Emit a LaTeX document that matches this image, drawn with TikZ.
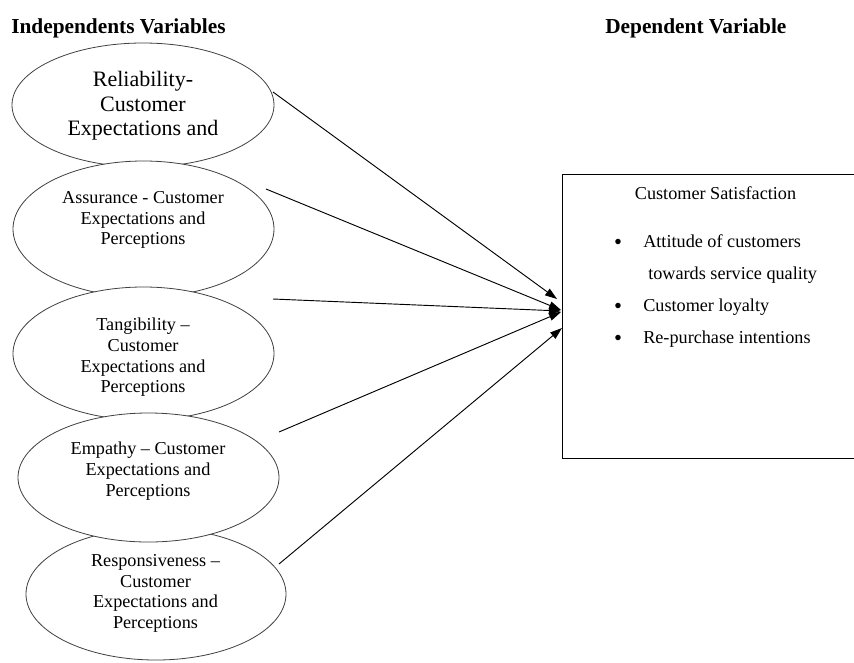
\documentclass[tikz,border=0pt]{standalone}
\usepackage{fontspec}
\setmainfont{Liberation Serif}
\usetikzlibrary{shapes.geometric,arrows.meta}
\begin{document}
\begin{tikzpicture}[x=0.75pt,y=-0.75pt,
  ell/.style={ellipse,draw=black!75,line width=0.6pt,fill=white,inner sep=0pt},
  etext/.style={align=center,inner sep=0pt,font=\rmfamily\fontsize{13.65pt}{15.5pt}\selectfont},
  bigtext/.style={align=center,inner sep=0pt,font=\rmfamily\fontsize{16.5pt}{18.4pt}\selectfont},
  head/.style={inner sep=0pt,font=\rmfamily\fontsize{16pt}{19pt}\selectfont\bfseries},
  btext/.style={inner sep=0pt,font=\rmfamily\fontsize{13.65pt}{15.5pt}\selectfont},
  bul/.style={inner sep=0pt,font=\rmfamily\fontsize{17pt}{19pt}\selectfont},
  link/.style={-{Triangle[length=9pt,width=6pt]},line width=0.7pt,black}]
\clip (0,0) rectangle (854,662);
\fill[white] (0,0) rectangle (854,662);
% headers
\node[head,anchor=base west] (hi) at (11,33) {Independents Variables};
\node[head,anchor=base west] (hd) at (605,33) {Dependent Variable};
% ellipses
\node[ell,minimum width=262*0.75pt,minimum height=124*0.75pt] (e1) at (143,105) {};
\node[bigtext] (t1) at (143,106) {Reliability-\\Customer\\Expectations and};
\node[ell,minimum width=261*0.75pt,minimum height=136*0.75pt] (e2) at (143.5,229) {};
\node[etext] (t2) at (143,220) {Assurance - Customer\\Expectations and\\Perceptions};
\node[ell,minimum width=261*0.75pt,minimum height=133*0.75pt] (e3) at (143.5,353.5) {};
\node[etext] (t3) at (143,357.5) {Tangibility --\\Customer\\Expectations and\\Perceptions};
\node[ell,minimum width=260*0.75pt,minimum height=132*0.75pt] (e5) at (156,594) {};
\node[etext] (t5) at (155.5,593.5) {Responsiveness --\\Customer\\Expectations and\\Perceptions};
\node[ell,minimum width=261*0.75pt,minimum height=129*0.75pt] (e4) at (148.5,477.5) {};
\node[etext] (t4) at (148,471) {Empathy -- Customer\\Expectations and\\Perceptions};
% dependent box
\node[draw,line width=1pt,rectangle,minimum width=340*0.75pt,minimum height=284*0.75pt,anchor=north west,inner sep=0pt] (cs) at (562,174) {};
\node[btext,anchor=base] (cst) at (715.5,199) {Customer Satisfaction};
\node[bul,anchor=base] (b1) at (618,249) {•};
\node[btext,anchor=base west] (l1) at (643,247) {Attitude of customers};
\node[btext,anchor=base west] (l1b) at (648,279) {towards service quality};
\node[bul,anchor=base] (b2) at (618,313) {•};
\node[btext,anchor=base west] (l2) at (643,311) {Customer loyalty};
\node[bul,anchor=base] (b3) at (618,345) {•};
\node[btext,anchor=base west] (l3) at (643,343) {Re-purchase intentions};
% connector endpoints
\coordinate (s1) at (273,92);
\coordinate (s2) at (266,189);
\coordinate (s3) at (273,299);
\coordinate (s4) at (279,432);
\coordinate (s5) at (279,564);
\coordinate (d1) at (557,299);
\coordinate (d2) at (561,310);
\coordinate (d3) at (561,311);
\coordinate (d4) at (561,312);
\coordinate (d5) at (562,328);
\draw[link] (s1) -- (d1);
\draw[link] (s2) -- (d2);
\draw[link] (s3) -- (d3);
\draw[link] (s4) -- (d4);
\draw[link] (s5) -- (d5);
\end{tikzpicture}
\end{document}
